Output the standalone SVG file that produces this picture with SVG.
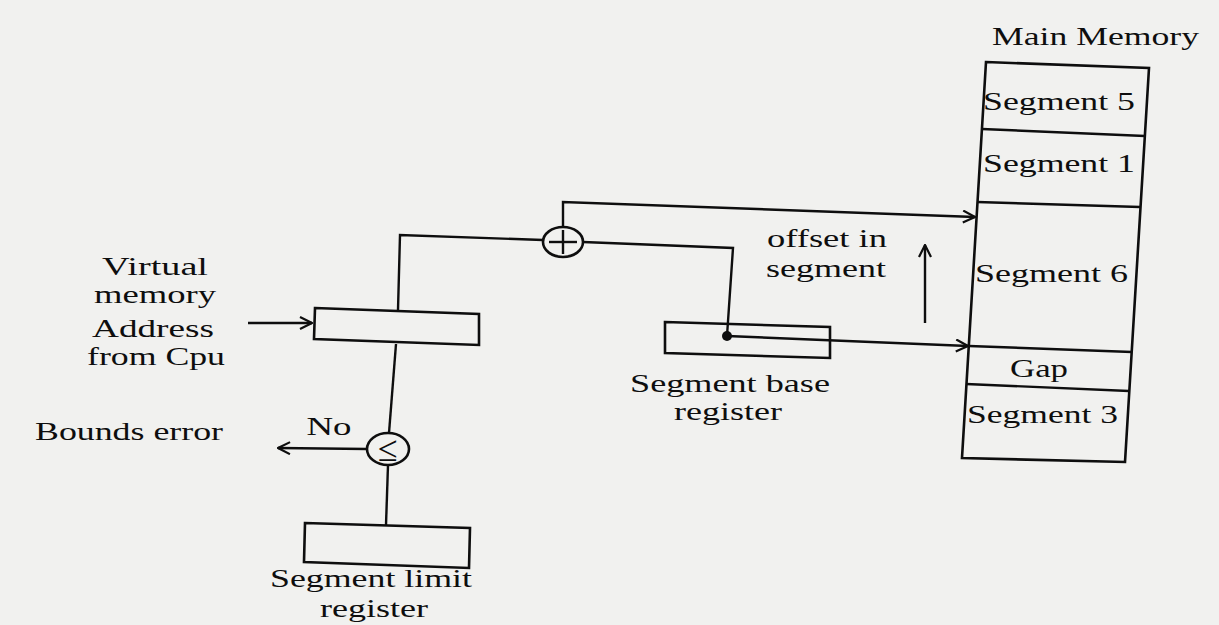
<svg xmlns="http://www.w3.org/2000/svg" width="1219" height="625" viewBox="0 0 1219 625">
<style>
  .t { font-family: "Liberation Serif", "Times New Roman", serif; font-size: 26px; fill: #0e0e0e; }
  .box { fill: none; stroke: #0e0e0e; stroke-width: 2.6; stroke-linejoin: miter; }
  .ln { fill: none; stroke: #0e0e0e; stroke-width: 2.4; }
  .arr { marker-end: url(#open); }
</style>
<defs>
  <marker id="open" viewBox="0 0 14 14" refX="13" refY="7" markerWidth="14" markerHeight="14" markerUnits="userSpaceOnUse" orient="auto">
    <path d="M1,1 L13,7 L1,13" fill="none" stroke="#0e0e0e" stroke-width="2.2"/>
  </marker>
</defs>
<rect x="0" y="0" width="1219" height="625" fill="#f1f1ef"/>

<g id="connectors">
  <line class="ln arr" x1="248" y1="323" x2="312" y2="323"/>
  <polyline class="ln" points="398,310 400,235 543,240"/>
  <polyline class="ln arr" points="563,227 563,202 975,217"/>
  <polyline class="ln" points="583,242 733,248 727,336"/>
  <line class="ln arr" x1="727" y1="336" x2="968" y2="346"/>
  <line class="ln" x1="396" y1="344" x2="389" y2="433"/>
  <line class="ln" x1="388" y1="465" x2="386" y2="525"/>
  <line class="ln arr" x1="367" y1="449" x2="278" y2="448"/>
  <line class="ln arr" x1="925" y1="323" x2="925" y2="245"/>
</g>

<g id="input-label">
  <text class="t" x="155" y="275" text-anchor="middle" textLength="106" lengthAdjust="spacingAndGlyphs">Virtual</text>
  <text class="t" x="155" y="303" text-anchor="middle" textLength="122" lengthAdjust="spacingAndGlyphs">memory</text>
  <text class="t" x="153" y="337" text-anchor="middle" textLength="122" lengthAdjust="spacingAndGlyphs">Address</text>
  <text class="t" x="156" y="365" text-anchor="middle" textLength="138" lengthAdjust="spacingAndGlyphs">from Cpu</text>
</g>

<g id="node-address-register">
  <polygon class="box" points="315,308 479,314 479,345 314,339"/>
</g>

<g id="node-adder">
  <ellipse class="box" cx="563" cy="242" rx="20" ry="15"/>
  <line class="ln" x1="549" y1="242" x2="577" y2="242"/>
  <line class="ln" x1="563" y1="230" x2="563" y2="254"/>
</g>

<g id="node-base-register">
  <polygon class="box" points="665,322 830,327 830,358 665,353"/>
  <circle cx="727" cy="336" r="5" fill="#0e0e0e"/>
  <text class="t" x="730" y="392" text-anchor="middle" textLength="200" lengthAdjust="spacingAndGlyphs">Segment base</text>
  <text class="t" x="728" y="420" text-anchor="middle" textLength="108" lengthAdjust="spacingAndGlyphs">register</text>
</g>

<g id="offset-label">
  <text class="t" x="827" y="247" text-anchor="middle" textLength="120" lengthAdjust="spacingAndGlyphs">offset in</text>
  <text class="t" x="826" y="277" text-anchor="middle" textLength="120" lengthAdjust="spacingAndGlyphs">segment</text>
</g>

<g id="node-compare">
  <ellipse class="box" cx="388" cy="449" rx="21" ry="16"/>
  <text class="t" x="388" y="461" text-anchor="middle" style="font-size:36px">≤</text>
  <text class="t" x="329" y="435" text-anchor="middle" textLength="45" lengthAdjust="spacingAndGlyphs">No</text>
</g>

<g id="bounds-error">
  <text class="t" x="35" y="440" textLength="188" lengthAdjust="spacingAndGlyphs">Bounds error</text>
</g>

<g id="node-limit-register">
  <polygon class="box" points="305,523 470,528 469,568 304,562"/>
  <text class="t" x="371" y="587" text-anchor="middle" textLength="202" lengthAdjust="spacingAndGlyphs">Segment limit</text>
  <text class="t" x="374" y="617" text-anchor="middle" textLength="108" lengthAdjust="spacingAndGlyphs">register</text>
</g>

<g id="node-main-memory">
  <text class="t" x="992" y="45" textLength="207" lengthAdjust="spacingAndGlyphs">Main Memory</text>
  <polygon class="box" points="986,62 1149,68 1125,462 962,458"/>
  <line class="ln" x1="982" y1="129" x2="1145" y2="136"/>
  <line class="ln" x1="977" y1="202" x2="1140" y2="207"/>
  <line class="ln" x1="969" y1="346" x2="1132" y2="352"/>
  <line class="ln" x1="966" y1="384" x2="1129" y2="391"/>
  <text class="t" x="983" y="110" textLength="152" lengthAdjust="spacingAndGlyphs">Segment 5</text>
  <text class="t" x="983" y="172" textLength="152" lengthAdjust="spacingAndGlyphs">Segment 1</text>
  <text class="t" x="975" y="282" textLength="153" lengthAdjust="spacingAndGlyphs">Segment 6</text>
  <text class="t" x="1010" y="377" textLength="58" lengthAdjust="spacingAndGlyphs">Gap</text>
  <text class="t" x="967" y="423" textLength="151" lengthAdjust="spacingAndGlyphs">Segment 3</text>
</g>
</svg>
